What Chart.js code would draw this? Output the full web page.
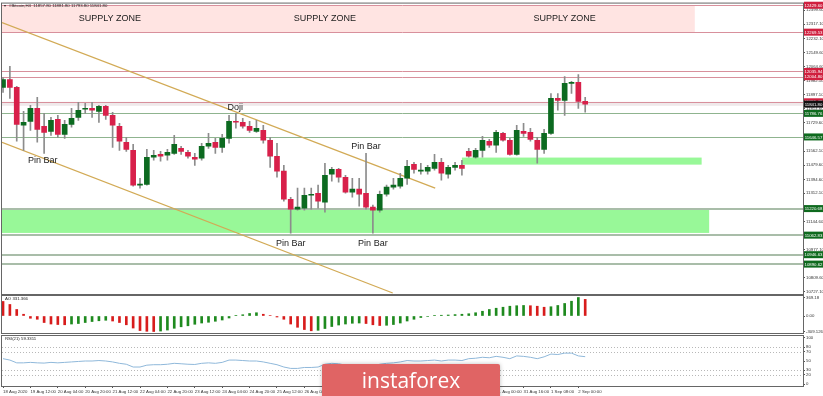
<!DOCTYPE html>
<html>
<head>
<meta charset="utf-8">
<script src="https://cdn.jsdelivr.net/npm/chart.js@4.4.0/dist/chart.umd.min.js"></script>
<style>
  body { margin: 0; background: #fff; width: 823px; height: 396px; overflow: hidden; position: relative; }
  canvas { position: absolute; left: 0; top: 0; }
  .wm {
    position: absolute; left: 322px; top: 364px; width: 178px; height: 34px;
    background: #e06464; border-radius: 2px; box-shadow: 0 0 4px rgba(0,0,0,.25);
    color: #fff; font: 21px "Open Sans", sans-serif; text-align: center; line-height: 32px;
  }
</style>
</head>
<body>
<canvas id="main" width="823" height="396"></canvas>
<canvas id="ao" width="823" height="396"></canvas>
<canvas id="rsi" width="823" height="396"></canvas>
<div class="wm">instaforex</div>
<script>
// #Bitcoin H4 candles
const opens = [11941,11988,11941,11716,11739,11816,11710,11680,11751,11662, 11721,11763,11811,11816,11799,11828,11775,11710,11615,11567,
  11360,11365,11526,11543,11538,11549,11579,11555,11526,11520, 11591,11615,11585,11638,11736,11733,11710,11680,11686,11627,
  11532,11443,11276,11217,11223,11300,11312,11259,11425,11454, 11407,11318,11336,11312,11229,11211,11306,11348,11354,11401,
  11484,11443,11443,11460,11496,11425,11466,11478,11561,11526, 11567,11621,11597,11668,11627,11543,11680,11674,11627,11573,
  11668,11876,11864,11965,11971,11857.8];
const highs = [12000,12066,11947,11799,11834,11882,11787,11763,11775,11745, 11816,11852,11846,11852,11834,11834,11793,11727,11644,11603,
  11401,11573,11567,11561,11573,11656,11591,11567,11549,11609, 11668,11638,11662,11775,11787,11757,11739,11745,11716,11644,
  11609,11478,11288,11342,11342,11342,11360,11490,11466,11460, 11419,11401,11401,11549,11241,11324,11360,11401,11431,11508,
  11496,11490,11478,11543,11520,11478,11496,11508,11579,11579, 11650,11632,11686,11674,11638,11716,11727,11698,11644,11692,
  11905,11905,12006,11977,12018,11881.8];
const lows = [11911,11876,11621,11567,11686,11615,11549,11656,11644,11638, 11704,11745,11787,11763,11733,11751,11585,11567,11561,11354,
  11342,11360,11508,11502,11508,11543,11543,11520,11478,11508, 11579,11549,11555,11609,11698,11698,11674,11674,11609,11466,
  11407,11265,11075,11211,11211,11217,11223,11199,11383,11377, 11312,11288,11235,11217,11075,11199,11294,11336,11342,11365,
  11431,11425,11425,11449,11389,11401,11449,11419,11526,11520, 11526,11585,11555,11621,11538,11538,11650,11621,11490,11549,
  11662,11805,11775,11905,11816,11793.8];
const closes = [11988,11941,11721,11733,11816,11692,11674,11745,11662,11721, 11757,11805,11816,11805,11828,11775,11716,11621,11573,11360,
  11365,11526,11538,11532,11555,11603,11561,11532,11514,11591, 11609,11585,11638,11739,11734,11710,11686,11698,11627,11532,
  11443,11276,11217,11229,11300,11306,11265,11419,11454,11407, 11318,11336,11306,11229,11211,11306,11348,11360,11401,11472,
  11454,11449,11466,11496,11431,11466,11478,11460,11532,11567, 11627,11597,11674,11627,11543,11686,11668,11632,11573,11668,
  11876,11864,11965,11971,11858,11841.8];

const aoValues = [290,230,130,35,-45,-65,-130,-160,-170,-175, -160,-150,-130,-110,-95,-85,-100,-130,-175,-240,
  -290,-305,-309.126,-300,-280,-245,-215,-195,-165,-140, -125,-105,-80,-40,12,25,50,65,35,10,
  -20,-65,-160,-225,-270,-295,-285,-250,-210,-180, -160,-145,-140,-150,-175,-190,-185,-170,-140,-100,
  -65,-30,-10,8,15,20,28,35,45,65, 95,130,155,175,195,205,210,205,195,175,
  185,210,250,295,369.18,331.366];
const rsiValues = [55,52,46,46,47,46,45.5,47,46,47, 48,49,50,50,51,50,48,45,43,37,
  37,41,42,42,43,45,44,43,42.5,45, 46,45,47,52,52,51,50,50,48,45,
  42,37,34,34,36,36,37,43,45,44, 41,42,41,38,38,43,45,46,48,51,
  50,50,51,52,50,52,52,51,55,56, 58,57,60,58,55,61,60,58,55,59,
  65,64,67,67,61,59.3311];

const timeTickBars = [0,4,8,12,16,20,24,28,32,36,40,44,48,52,56,60,64,68,72,76,80,84];
const timeTickLabels = ["18 Aug 2020","19 Aug 12:00","20 Aug 04:00","20 Aug 20:00","21 Aug 12:00","22 Aug 04:00",
  "22 Aug 20:00","23 Aug 12:00","24 Aug 04:00","24 Aug 20:00","25 Aug 12:00","26 Aug 04:00","26 Aug 20:00",
  "27 Aug 12:00","28 Aug 04:00","28 Aug 20:00","29 Aug 16:00","30 Aug 08:00","31 Aug 00:00","31 Aug 16:00",
  "1 Sep 08:00","2 Sep 00:00"];

const priceTicks = [12399.6,12317.1,12232.1,12149.6,12064.6,11982.1,11897.1,11814.6,11729.6,11647.1,11562.1,
  11479.6,11394.6,11312.1,11227.1,11144.6,11059.6,10977.1,10892.1,10809.6,10727.1];
const aoTicks = [369.18, 0, -309.126];
const aoTickLabels = ["369.18", "0.00", "-309.126"];
const rsiTicks = [100, 80, 70, 50, 30, 20, 0];
const rsiLevels = [80, 70, 30, 20];

// levels drawn on the chart
const redLevels = [12429.60, 12269.53, 12035.94, 12004.80, 11855.49];
const greenLevels = [11786.76, 11646.57, 11220.68, 11062.83, 10946.63, 10890.62];
const supplyZone = { from: -0.15, to: 101.0, low: 12269.53, high: 12429.60 };
const demandZone = { from: -0.15, to: 103.1, low: 11076, high: 11218 };
const smallZone = { from: 67.0, to: 102.0, low: 11482, high: 11524 };
const trendLines = [
  { x: [-0.15, 63.1], y: [12326.7, 11341.8] },
  { x: [-0.15, 56.9], y: [11614.7, 10718.8] }
];
const notes = [
  { text: "SUPPLY ZONE", x: 15.6, y: 12350 },
  { text: "SUPPLY ZONE", x: 47.0, y: 12350 },
  { text: "SUPPLY ZONE", x: 82.0, y: 12350 },
  { text: "Doji", x: 33.9, y: 11822 },
  { text: "Pin Bar", x: 5.8, y: 11508 },
  { text: "Pin Bar", x: 53.0, y: 11591 },
  { text: "Pin Bar", x: 42.0, y: 11015 },
  { text: "Pin Bar", x: 54.0, y: 11015 }
];

const N = opens.length;
const bars = opens.map((_, i) => i);
const bull = '#0c6a20', bear = '#d8204a';
const X_MIN = -0.15, X_MAX = 116.8;
const TINY = 4.3;
const tinyFont = TINY + 'px "Liberation Sans", Arial, sans-serif';

Chart.defaults.font.family = '"Liberation Sans", Arial, sans-serif';
Chart.defaults.font.size = TINY;
Chart.defaults.color = '#333';

const frame = {
  id: 'frame',
  afterDraw(chart, args, opts) {
    const { ctx, chartArea: a } = chart;
    ctx.save();
    ctx.strokeStyle = '#666';
    ctx.lineWidth = 1;
    ctx.strokeRect(a.left - 0.5, a.top - 0.5, a.right - a.left + 1, a.bottom - a.top + 1);
    if (opts.title) {
      ctx.fillStyle = '#222';
      ctx.font = tinyFont;
      ctx.textBaseline = 'top';
      ctx.fillText(opts.title, a.left + 3, a.top + 1);
    }
    ctx.restore();
  }
};

function rightAxis(extra) {
  return Object.assign({
    position: 'right',
    afterFit: s => { s.width = 20; },
    grid: { drawOnChartArea: false, tickLength: 2, color: '#555' },
    border: { display: true, color: '#555' }
  }, extra);
}

function hiddenX() {
  return { type: 'linear', min: X_MIN, max: X_MAX, offset: false, display: false, grid: { offset: false } };
}

// zones, levels, trend lines and notes on the price panel
const overlays = {
  id: 'overlays',
  beforeDatasetsDraw(chart) {
    const { ctx, chartArea: a, scales: { x, y } } = chart;
    ctx.save();
    ctx.beginPath();
    ctx.rect(a.left, a.top, a.right - a.left, a.bottom - a.top);
    ctx.clip();
    const zone = (z, color) => {
      const x0 = x.getPixelForValue(z.from), x1 = x.getPixelForValue(z.to);
      const y0 = y.getPixelForValue(z.high), y1 = y.getPixelForValue(z.low);
      ctx.fillStyle = color;
      ctx.fillRect(x0, y0, x1 - x0, y1 - y0);
    };
    zone(supplyZone, '#ffe4e2');
    zone(demandZone, '#98f898');
    zone(smallZone, '#98f898');
    // light band under the bid line
    const yb = y.getPixelForValue(redLevels[4]);
    ctx.fillStyle = '#efe9ea';
    ctx.fillRect(a.left, yb, a.right - a.left, 4);

    const hline = (p, color, w) => {
      const py = Math.round(y.getPixelForValue(p)) + (w % 2 ? 0.5 : 0);
      ctx.strokeStyle = color;
      ctx.lineWidth = w;
      ctx.beginPath();
      ctx.moveTo(a.left, py);
      ctx.lineTo(a.right, py);
      ctx.stroke();
    };
    redLevels.forEach(p => hline(p, '#d8909c', 1));
    greenLevels.forEach((p, i) => hline(p, i < 2 ? '#8fb48f' : '#a9bda9', i < 2 ? 1 : 2));

    ctx.strokeStyle = '#d2aa55';
    ctx.lineWidth = 1.3;
    trendLines.forEach(t => {
      ctx.beginPath();
      ctx.moveTo(x.getPixelForValue(t.x[0]), y.getPixelForValue(t.y[0]));
      ctx.lineTo(x.getPixelForValue(t.x[1]), y.getPixelForValue(t.y[1]));
      ctx.stroke();
    });
    ctx.restore();
  },
  afterDatasetsDraw(chart) {
    const { ctx, scales: { x, y } } = chart;
    ctx.save();
    ctx.fillStyle = '#222';
    ctx.font = '9px "Liberation Sans", Arial, sans-serif';
    ctx.textAlign = 'center';
    ctx.textBaseline = 'middle';
    notes.forEach(n => ctx.fillText(n.text, x.getPixelForValue(n.x), y.getPixelForValue(n.y)));
    ctx.font = tinyFont;
    ctx.textAlign = 'left';
    ctx.textBaseline = 'top';
    const head = '#Bitcoin,H4  ' + [opens, highs, lows, closes].map(s => s[N - 1].toFixed(2)).join(' ');
    ctx.fillText('\u25BE', 4, 4);
    ctx.fillText(head, 9, 4);
    ctx.restore();
  },
  afterDraw(chart) {
    const { ctx, chartArea: a, scales: { y } } = chart;
    ctx.save();
    ctx.font = tinyFont;
    ctx.textAlign = 'center';
    ctx.textBaseline = 'middle';
    const tag = (p, color) => {
      const py = y.getPixelForValue(p);
      ctx.fillStyle = color;
      ctx.fillRect(a.right + 1, py - 3.5, 19, 7);
      ctx.fillStyle = '#fff';
      ctx.fillText(p.toFixed(2), a.right + 10.5, py + 0.5);
    };
    redLevels.forEach(p => tag(p, '#d0203f'));
    greenLevels.forEach(p => tag(p, '#0e6a1e'));
    tag(closes[N - 1], '#111');
    ctx.restore();
  }
};

new Chart(document.getElementById('main'), {
  type: 'bar',
  data: {
    datasets: [
      {
        order: 0,
        data: bars.map(i => ({ x: i, y: [opens[i], closes[i]] })),
        backgroundColor: bars.map(i => closes[i] >= opens[i] ? bull : bear),
        barThickness: 5,
        minBarLength: 1,
        grouped: false
      },
      {
        order: 1,
        data: bars.map(i => ({ x: i, y: [lows[i], highs[i]] })),
        backgroundColor: '#8c8c8c',
        barThickness: 1,
        grouped: false
      }
    ]
  },
  options: {
    responsive: false, animation: false, events: [],
    layout: { padding: { left: 2, top: 3, right: 0, bottom: 102 } },
    plugins: { legend: { display: false }, tooltip: { enabled: false }, frame: {} },
    scales: {
      x: hiddenX(),
      y: rightAxis({
        min: 10712.9, max: 12439.4,
        afterBuildTicks: s => { s.ticks = priceTicks.map(v => ({ value: v })); },
        ticks: { padding: 1, autoSkip: false, callback: v => v.toFixed(2) }
      })
    }
  },
  plugins: [overlays, frame]
});

new Chart(document.getElementById('ao'), {
  type: 'bar',
  data: {
    datasets: [{
      data: bars.map(i => ({ x: i, y: aoValues[i] })),
      backgroundColor: bars.map(i => i > 0 && aoValues[i] >= aoValues[i - 1] ? '#1e8a1e' : '#d81c1c'),
      barThickness: 2,
      grouped: false
    }]
  },
  options: {
    responsive: false, animation: false, events: [],
    layout: { padding: { left: 2, top: 296, right: 0, bottom: 63 } },
    plugins: { legend: { display: false }, tooltip: { enabled: false },
      frame: { title: 'AO ' + aoValues[N - 1].toFixed(3) } },
    scales: {
      x: hiddenX(),
      y: rightAxis({
        min: -339, max: 399,
        afterBuildTicks: s => { s.ticks = aoTicks.map(v => ({ value: v })); },
        ticks: { padding: 1, autoSkip: false, callback: (v, i) => aoTickLabels[i] }
      })
    }
  },
  plugins: [frame]
});

const rsiGrid = {
  id: 'rsiGrid',
  beforeDatasetsDraw(chart) {
    const { ctx, chartArea: a, scales: { y } } = chart;
    ctx.save();
    ctx.strokeStyle = '#b8b8b8';
    ctx.lineWidth = 1;
    ctx.setLineDash([1, 2]);
    rsiLevels.forEach(v => {
      const py = Math.round(y.getPixelForValue(v)) + 0.5;
      ctx.beginPath();
      ctx.moveTo(a.left, py);
      ctx.lineTo(a.right, py);
      ctx.stroke();
    });
    ctx.restore();
  }
};

new Chart(document.getElementById('rsi'), {
  type: 'line',
  data: {
    datasets: [{
      data: bars.map(i => ({ x: i, y: rsiValues[i] })),
      borderColor: '#8fb8da',
      borderWidth: 1,
      pointRadius: 0,
      tension: 0
    }]
  },
  options: {
    responsive: false, animation: false, events: [],
    layout: { padding: { left: 2, top: 336, right: 0, bottom: 0 } },
    plugins: { legend: { display: false }, tooltip: { enabled: false },
      frame: { title: 'RSI(21) ' + rsiValues[N - 1].toFixed(4) } },
    scales: {
      x: {
        type: 'linear', min: X_MIN, max: X_MAX, offset: false,
        afterFit: s => { s.height = 10; },
        afterBuildTicks: s => { s.ticks = timeTickBars.map(v => ({ value: v })); },
        grid: { drawOnChartArea: false, tickLength: 2, color: '#555' },
        border: { display: true, color: '#555' },
        ticks: { align: 'start', padding: 1, autoSkip: false, maxRotation: 0, minRotation: 0,
          callback: (v, i) => timeTickLabels[i] }
      },
      y: rightAxis({
        min: -4, max: 104,
        afterBuildTicks: s => { s.ticks = rsiTicks.map(v => ({ value: v })); },
        ticks: { padding: 1, autoSkip: false, callback: v => String(v) }
      })
    }
  },
  plugins: [rsiGrid, frame]
});
</script>
</body>
</html>
